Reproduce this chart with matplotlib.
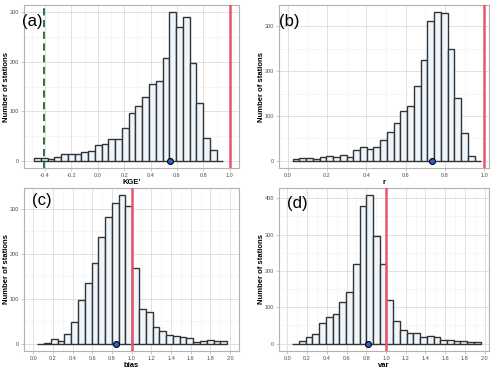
import numpy as np
import matplotlib
matplotlib.use("Agg")
import matplotlib.pyplot as plt
from matplotlib.ticker import MultipleLocator, FormatStrFormatter

plt.rcParams["font.family"] = ["Liberation Sans", "DejaVu Sans"]

# histogram counts (28 bins per panel)
kge_counts = [5, 5, 3, 8, 14, 14, 13, 18, 20, 31, 34, 43, 43, 66, 97, 111,
              129, 156, 162, 208, 300, 270, 290, 197, 116, 45, 22, 0]
kge_range = (-0.483, 0.951)
kge_median = 0.545

r_counts = [3, 5, 5, 3, 8, 10, 8, 12, 9, 24, 31, 26, 31, 46, 63, 85,
            110, 122, 166, 226, 312, 332, 329, 250, 141, 61, 11, 0]
r_range = (0.025, 0.984)
r_median = 0.733

bias_counts = [0, 1, 10, 5, 22, 48, 98, 134, 180, 238, 283, 313, 330, 307,
               169, 76, 71, 36, 28, 19, 16, 15, 13, 4, 5, 7, 5, 6]
bias_range = (0.041, 1.97)
bias_median = 0.839

var_counts = [0, 6, 17, 26, 56, 73, 81, 115, 142, 220, 380, 408, 295, 218,
              120, 61, 37, 28, 28, 17, 20, 17, 11, 11, 8, 6, 5, 5]
var_range = (0.051, 1.959)
var_median = 0.818

kge_benchmark = -0.41

panels = [
    ("(a)", "KGE'", kge_counts, kge_range, kge_median, (-0.56, 1.07), (-15, 315)),
    ("(b)", "r", r_counts, r_range, r_median, (-0.044, 1.023), (-16.5, 348)),
    ("(c)", "bias", bias_counts, bias_range, bias_median, (-0.095, 2.091), (-16.5, 346.5)),
    ("(d)", "var", var_counts, var_range, var_median, (-0.084, 2.044), (-20.4, 428.4)),
]

fig = plt.figure(figsize=(5, 3.7), dpi=100)
W, H = 500, 370
# axes boxes in pixels: left, top, right, bottom
boxes = [(24, 5, 239, 168), (279, 5, 489, 168),
         (24, 188, 239, 351), (279, 188, 489, 351)]
# panel letter positions (axes fraction)
letter_pos = [(-0.01, 0.945), (0.0, 0.945), (0.035, 0.97), (0.04, 0.95)]

for (lab, xlab, counts, rng, med, xlim, ylim), (l, t, r, b), lp in zip(panels, boxes, letter_pos):
    ax = fig.add_axes([l / W, 1 - b / H, (r - l) / W, (b - t) / H])
    edges = np.linspace(rng[0], rng[1], len(counts) + 1)
    ax.bar(edges[:-1], counts, width=np.diff(edges), align="edge",
           color="#EEF6FC", edgecolor="#333333", linewidth=1.0, zorder=3)
    ax.axvline(1.0, color="#E8566C", linewidth=1.8, zorder=4)
    if lab == "(a)":
        ax.axvline(kge_benchmark, color="#1B6B2A", linewidth=1.3,
                   linestyle=(0, (4, 2.5)), zorder=4)
    ax.scatter([med], [0], s=18, color="#2F5FD0", edgecolor="black",
               linewidth=0.8, zorder=5, clip_on=False)

    ax.set_xlim(*xlim)
    ax.set_ylim(*ylim)
    ax.xaxis.set_major_locator(MultipleLocator(0.2))
    ax.xaxis.set_minor_locator(MultipleLocator(0.1))
    ax.yaxis.set_major_locator(MultipleLocator(100))
    ax.yaxis.set_minor_locator(MultipleLocator(50))
    ax.xaxis.set_major_formatter(FormatStrFormatter("%.1f"))
    ax.grid(which="major", color="#DCDCDC", linewidth=0.6, zorder=0)
    ax.grid(which="minor", color="#EFEFEF", linewidth=0.4, zorder=0)
    ax.set_axisbelow(True)
    for s in ax.spines.values():
        s.set_color("#B3B3B3")
        s.set_linewidth(0.8)
    ax.tick_params(which="major", length=2, width=0.5, color="#B3B3B3",
                   labelsize=4.0, labelcolor="#4D4D4D", pad=1.5)
    ax.tick_params(which="minor", length=0)
    ax.set_xlabel(xlab, fontsize=5.5, fontweight="bold", va="center")
    ax.set_ylabel("Number of stations", fontsize=5.5, fontweight="bold", va="center")
    ax.xaxis.set_label_coords(0.5, -0.086)
    ax.yaxis.set_label_coords(-0.082, 0.5)
    ax.text(lp[0], lp[1], lab, transform=ax.transAxes, fontsize=12,
            va="top", ha="left", zorder=6)

fig.savefig("out.png", dpi=100)
